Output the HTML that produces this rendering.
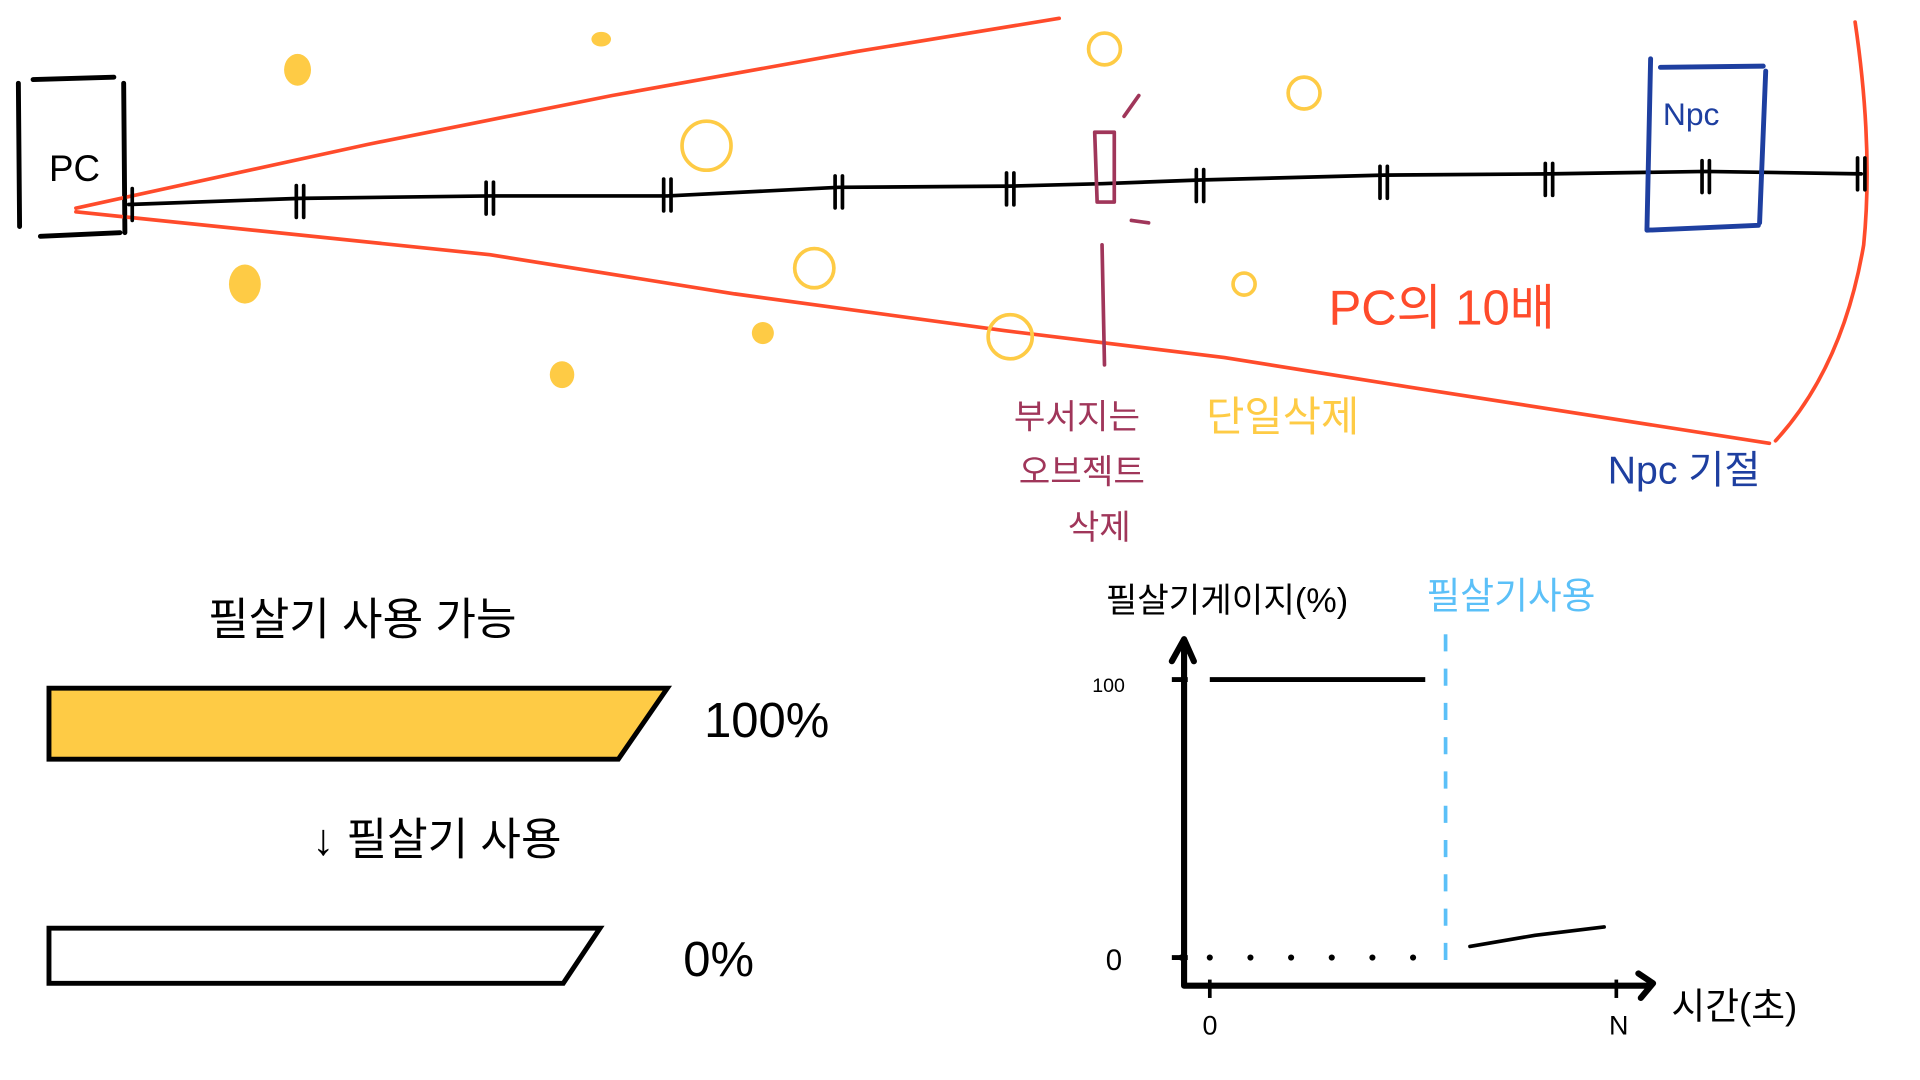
<!DOCTYPE html>
<html><head><meta charset="utf-8"><style>
html,body{margin:0;padding:0;background:#fff;width:1920px;height:1080px;overflow:hidden}
svg{display:block}
text{font-family:"Liberation Sans","Noto Sans CJK KR",sans-serif}
</style></head><body>
<svg id="s" width="1920" height="1080" viewBox="0 0 1568 882" preserveAspectRatio="none">
<g fill="none" stroke-linecap="round" stroke-linejoin="round">
<g stroke="#000" stroke-width="4">
<path d="M15 68 L16 185 M27 65 L93 63 M101 68 L102 190 M33 193 L98 190"/>
</g>
<text x="40" y="148" font-size="30" fill="#000">PC</text>
<g stroke="#ff4b2b" stroke-width="3">
<path d="M62 170 L300 118 L500 78 L700 42 L865 15"/>
<path d="M62 173 L400 208 L600 240 L820 270 L1000 292 L1150 316 L1445 362"/>
<path d="M1515 18 Q1530 120 1522 200 Q1505 300 1450 360"/>
</g>
<path stroke="#000" stroke-width="3" d="M105 167 L245 162 L400 160 L545 160 L685 153 L825 152 L900 150 L980 147 L1130 143 L1265 142 L1393 140 L1520 142"/>
<g id="ticks" stroke="#000" stroke-width="3"></g>
<path stroke="#1e3fa0" stroke-width="4" d="M1348 48 L1345 188 M1356 55 L1440 54 M1442 58 L1437 182 M1345 188 L1436 184"/>
<g stroke="#a0365a" stroke-width="3">
<path d="M894 108 L910 108 L910 165 L896 165 Z"/>
<path d="M900 200 L902 298 M918 95 L930 78 M924 180 L938 182"/>
</g>
<g fill="#fecb45">
<ellipse cx="243" cy="57" rx="11" ry="13"/><ellipse cx="491" cy="32" rx="8" ry="6"/>
<ellipse cx="200" cy="232" rx="13" ry="16"/><ellipse cx="459" cy="306" rx="10" ry="11"/>
<ellipse cx="623" cy="272" rx="9" ry="9"/>
</g>
<g stroke="#fecb45" stroke-width="3">
<circle cx="902" cy="40" r="13"/><circle cx="1065" cy="76" r="13"/><circle cx="577" cy="119" r="20"/>
<circle cx="665" cy="219" r="16"/><circle cx="825" cy="275" r="18"/><circle cx="1016" cy="232" r="9"/>
</g>
</g>
<text x="1085" y="265" font-size="40" fill="#ff4b2b">PC의 10배</text>
<text x="985" y="352" font-size="34" fill="#fecb45">단일삭제</text>
<g fill="#a0365a" font-size="28">
<text x="828" y="350">부서지는</text><text x="832" y="395">오브젝트</text><text x="872" y="440">삭제</text>
</g>
<text x="1313" y="395" font-size="32" fill="#1e3fa0">Npc 기절</text>
<text x="1358" y="102" font-size="26" fill="#1e3fa0">Npc</text>

<text x="170" y="518" font-size="36" fill="#000">필살기 사용 가능</text>
<path d="M40 562 L545 562 L505 620 L40 620 Z" fill="#fecb45" stroke="#000" stroke-width="4"/>
<text x="575" y="602" font-size="40" fill="#000">100%</text>
<text x="255" y="698" font-size="36" fill="#000">↓ 필살기 사용</text>
<path d="M40 758 L490 758 L460 803 L40 803 Z" fill="none" stroke="#000" stroke-width="4"/>
<text x="558" y="797" font-size="40" fill="#000">0%</text>

<g id="chart"></g>
<text x="903" y="500" font-size="28" fill="#000">필살기게이지(%)</text>
<text x="1165" y="497" font-size="30" fill="#5bc0f8">필살기사용</text>
<text x="1365" y="832" font-size="30" fill="#000">시간(초)</text>
</svg>
<script>
const tickXs=[105,245,400,545,685,825,980,1130,1265,1393,1520];
const xTickLabels=["0","N"];
const xTickValues=[0,1];
const yTickLabels=["0","100"];
const yTickValues=[0,100];
const fullT=[0,0.53];
const fullV=[100,100];
const dotT=[-0.07,0.0,0.1,0.2,0.3,0.4,0.5];
const dotV=[0,0,0,0,0,0,0];
const useT=[0.58];
const afterT=[0.64,0.8,0.97];
const afterV=[4,8,11];
const NS="http://www.w3.org/2000/svg";
function X(t){return 988+t*(1320-988);}
function Y(v){return 782-v*(782-555)/100;}
function mk(tag,attrs,parent){const e=document.createElementNS(NS,tag);for(const k in attrs)e.setAttribute(k,attrs[k]);parent.appendChild(e);return e;}
const tk=document.getElementById('ticks');
const lineY=function(x){const xs=[105,1520],ys=[167,142];return ys[0]+(x-xs[0])*(ys[1]-ys[0])/(xs[1]-xs[0]);};
tickXs.forEach(function(x){
 const e=mk('path',{d:`M${x-3} ${lineY(x)-13} L${x-3} ${lineY(x)+13} M${x+3} ${lineY(x)-13} L${x+3} ${lineY(x)+13}`},tk);
 
 
});
const c=document.getElementById('chart');
const ax=mk('path',{d:`M967 805 L967 522 M957 540 L967 522 L975 540 M967 805 L1345 805 M1338 795 L1350 803 L1340 815`,fill:'none',stroke:'#000','stroke-width':5,'stroke-linecap':'round','stroke-linejoin':'round'},c);


xTickValues.forEach(function(v,i){
 const l=mk('path',{d:`M${X(v)} 800 L${X(v)} 815`,stroke:'#000','stroke-width':3},c);
 
 
 const t=mk('text',{x:X(v)-6,y:845,'font-size':22,fill:'#000'},c);t.textContent=xTickLabels[i];
 
 
});
yTickValues.forEach(function(v,i){
 const l=mk('path',{d:`M957 ${Y(v)} L970 ${Y(v)}`,stroke:'#000','stroke-width':4},c);
 
 
 const t=mk('text',{x:v?892:903,y:Y(v)+10,'font-size':v?16:24,fill:'#000'},c);t.textContent=yTickLabels[i];
 
 
});
const f=mk('path',{d:fullT.map((t,i)=>(i?'L':'M')+X(t)+' '+Y(fullV[i])).join(' '),stroke:'#000','stroke-width':4,fill:'none'},c);


dotT.forEach(function(t,i){
 const d=mk('circle',{cx:X(t),cy:Y(dotV[i]),r:2.5,fill:'#000'},c);
 
 
});
useT.forEach(function(t){
 const u=mk('path',{d:`M${X(t)} 518 L${X(t)} 785`,stroke:'#5bc0f8','stroke-width':3,'stroke-dasharray':'14 14',fill:'none'},c);
 
 
});
const a=mk('path',{d:afterT.map((t,i)=>(i?'L':'M')+X(t)+' '+Y(afterV[i])).join(' '),stroke:'#000','stroke-width':3,fill:'none','stroke-linecap':'round'},c);


</script>
</body></html>
